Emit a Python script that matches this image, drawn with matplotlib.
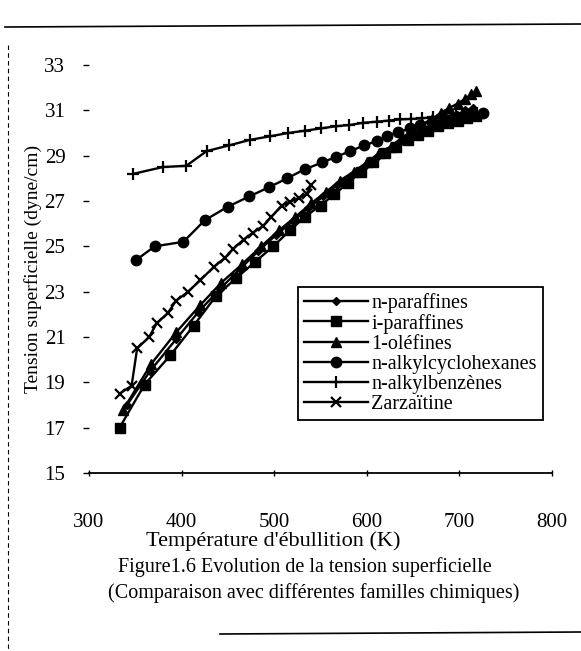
import matplotlib
matplotlib.use("Agg")
import matplotlib.pyplot as plt
from matplotlib.lines import Line2D

plt.rcParams['font.family'] = ['Liberation Serif', 'DejaVu Serif']

# Boiling temperature (K) and surface tension (dyne/cm) for each family
t_nparaf = [341, 366, 394, 418, 441, 463, 483, 502, 520, 537, 553, 568, 583, 597,
            610, 622, 634, 646, 657, 668, 678, 688, 697, 706, 715]
s_nparaf = [18.0, 19.5, 20.9, 22.1, 23.1, 24.0, 24.8, 25.5, 26.1, 26.7, 27.2, 27.7,
            28.1, 28.5, 28.9, 29.2, 29.5, 29.8, 30.0, 30.2, 30.4, 30.6, 30.8, 31.0, 31.1]

t_iparaf = [333, 360, 388, 413, 437, 459, 479, 499, 517, 533, 550, 565, 580, 594,
            607, 620, 632, 644, 655, 666, 677, 688, 698, 708, 718]
s_iparaf = [17.0, 18.9, 20.2, 21.5, 22.8, 23.6, 24.3, 25.0, 25.7, 26.3, 26.8, 27.3,
            27.8, 28.3, 28.7, 29.1, 29.4, 29.7, 29.9, 30.1, 30.3, 30.45, 30.55, 30.65, 30.75]

t_olef = [337, 367, 394, 420, 443, 465, 486, 505, 523, 540, 556, 571, 586, 600,
          613, 626, 638, 649, 660, 670, 680, 689, 698, 706, 713, 718]
s_olef = [17.8, 19.8, 21.2, 22.4, 23.4, 24.2, 25.0, 25.7, 26.3, 26.9, 27.4, 27.9,
          28.3, 28.7, 29.1, 29.4, 29.8, 30.1, 30.4, 30.6, 30.9, 31.1, 31.3, 31.5, 31.7, 31.85]

t_cyclo = [351, 371, 402, 425, 450, 473, 494, 514, 533, 552, 567, 582, 597, 611,
           622, 634, 647, 657, 670, 683, 697, 711, 726]
s_cyclo = [24.4, 25.0, 25.2, 26.15, 26.75, 27.2, 27.6, 28.0, 28.4, 28.7, 28.95, 29.2,
           29.45, 29.65, 29.85, 30.05, 30.2, 30.35, 30.5, 30.6, 30.7, 30.8, 30.9]

t_benz = [348, 380, 405, 427, 451, 474, 495, 515, 533, 550, 567, 581, 596, 611,
          624, 636, 648, 660, 672, 684, 696, 708, 719]
s_benz = [28.2, 28.5, 28.55, 29.2, 29.45, 29.7, 29.85, 30.0, 30.1, 30.2, 30.3, 30.35,
          30.45, 30.5, 30.55, 30.6, 30.62, 30.65, 30.7, 30.75, 30.8, 30.85, 30.9]

t_zarz = [333, 346, 352, 365, 373, 385, 394, 407, 420, 435, 447, 456, 467, 477,
          488, 497, 508, 517, 527, 535, 540]
s_zarz = [18.5, 18.85, 20.5, 21.0, 21.6, 22.05, 22.6, 23.0, 23.5, 24.1, 24.5, 24.9,
          25.3, 25.6, 25.9, 26.3, 26.8, 26.95, 27.15, 27.3, 27.7]

x_ticks = [300, 400, 500, 600, 700, 800]
y_ticks = [15, 17, 19, 21, 23, 25, 27, 29, 31, 33]

series = [
    (t_nparaf, s_nparaf, 'n-paraffines', dict(marker='D', ms=4)),
    (t_iparaf, s_iparaf, 'i-paraffines', dict(marker='s', ms=6.5)),
    (t_olef, s_olef, '1-oléfines', dict(marker='^', ms=6.5)),
    (t_cyclo, s_cyclo, 'n-alkylcyclohexanes', dict(marker='o', ms=7.5)),
    (t_benz, s_benz, 'n-alkylbenzènes', dict(marker='+', ms=9, mew=1.6)),
    (t_zarz, s_zarz, 'Zarzaïtine', dict(marker='x', ms=7, mew=1.6)),
]

fig = plt.figure(figsize=(5.81, 6.51), dpi=100)
ax = fig.add_axes([89 / 581, 1 - 473 / 651, 463 / 581, 408 / 651])

for t, s, lab, st in series:
    ax.plot(t, s, color='black', lw=1.7, label=lab, **st)

ax.set_xlim(300, 800)
ax.set_ylim(15, 33)
ax.set_xticks(x_ticks)
ax.set_yticks(y_ticks)
for side in ('top', 'right', 'left'):
    ax.spines[side].set_visible(False)
ax.spines['bottom'].set_linewidth(1.3)
ax.tick_params(axis='x', direction='inout', length=5, width=1, pad=26, labelsize=15)
ax.tick_params(axis='y', direction='out', length=4, width=1, pad=13, labelsize=15)

ax.set_ylabel('Tension superficielle (dyne/cm)', fontsize=14, labelpad=2)

leg = ax.legend(loc='lower left', bbox_to_anchor=(0.451, 0.130), fontsize=14.5,
                frameon=True, fancybox=False, edgecolor='black', framealpha=1,
                handlelength=3.2, handletextpad=0.15, labelspacing=0.05,
                borderpad=0.3, borderaxespad=0)
leg.get_frame().set_linewidth(1.3)

fig.text(0.47, 1 - 541 / 651, "Température d'ébullition (K)", ha='center', va='center', fontsize=16)
fig.text(0.525, 1 - 567 / 651, "Figure1.6 Evolution de la tension superficielle",
         ha='center', va='center', fontsize=14.5)
fig.text(0.54, 1 - 593 / 651, "(Comparaison avec différentes familles chimiques)",
         ha='center', va='center', fontsize=14.5)

# page frame lines
fig.add_artist(Line2D([5 / 581, 1], [1 - 27 / 651, 1 - 24 / 651], color='black', lw=1.2))
fig.add_artist(Line2D([8 / 581, 8 / 581], [1 - 45 / 651, 0], color='black', lw=0.8,
                      ls=(0, (4, 3))))
fig.add_artist(Line2D([220 / 581, 1], [1 - 634 / 651, 1 - 632 / 651], color='black', lw=1.2))

fig.savefig('out.png', dpi=100)
